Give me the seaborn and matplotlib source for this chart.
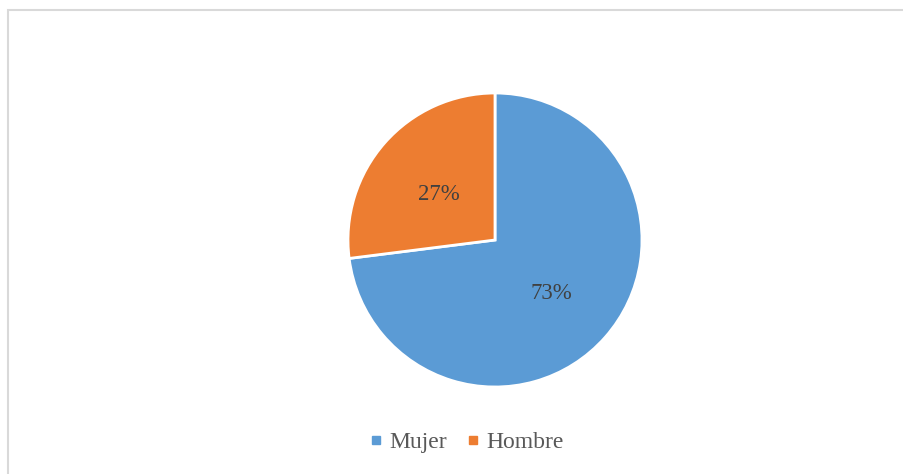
import matplotlib
matplotlib.use("Agg")
import matplotlib.pyplot as plt
import matplotlib.transforms as mtransforms
from matplotlib.lines import Line2D
from matplotlib.patches import Rectangle
import seaborn as sns

categorias = ["Mujer", "Hombre"]
porcentajes = [73, 27]
colores = ["#5B9BD5", "#ED7D31"]

sns.set_theme(style="white")
plt.rcParams["font.family"] = ["Liberation Serif", "DejaVu Serif"]

W, H = 904, 474
fig = plt.figure(figsize=(W / 100, H / 100), dpi=100)

# marco gris del grafico
fig.patches.append(Rectangle((8 / W, -0.1), 1.2, (H - 10) / H + 0.1, transform=fig.transFigure,
                             fill=False, edgecolor="#D9D9D9", linewidth=1.5))

cx, cy, r = 495, 240, 147
ax = fig.add_axes([(cx - r) / W, (H - cy - r) / H, 2 * r / W, 2 * r / H])
wedges, texts, autotexts = ax.pie(
    porcentajes, colors=colores, startangle=90, counterclock=False,
    autopct="%1.0f%%", pctdistance=0.51,
    wedgeprops=dict(edgecolor="white", linewidth=2),
    textprops=dict(fontsize=16.5, color="#404040"))
for t in autotexts:
    t.set_transform(mtransforms.offset_copy(ax.transData, fig=fig, x=0, y=-3, units="points"))
ax.set_aspect("equal")
ax.set_xlim(-1, 1)
ax.set_ylim(-1, 1)
ax.axis("off")

handles = [Line2D([], [], marker="s", linestyle="", markersize=6,
                  markerfacecolor=c, markeredgecolor=c) for c in colores]
fig.legend(handles, categorias, loc="center", bbox_to_anchor=(0.5145, (H - 442) / H),
           ncol=2, frameon=False, fontsize=17, labelcolor="#595959",
           handletextpad=0.15, columnspacing=0.7, handlelength=0.8)

fig.savefig("out.png", dpi=100)
